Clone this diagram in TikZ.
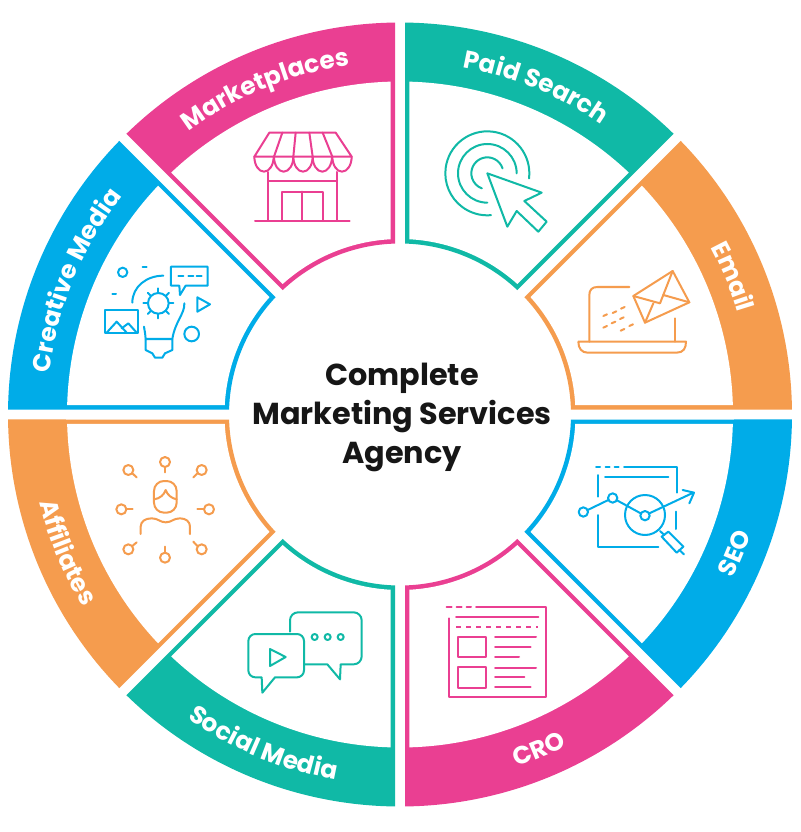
\documentclass[tikz,border=0pt]{standalone}
\usepackage{fontspec}
\setmainfont{Poppins}
\usetikzlibrary{decorations.text}
\definecolor{cteal}{HTML}{10B9A6}
\definecolor{corange}{HTML}{F59C4E}
\definecolor{cblue}{HTML}{00ACE8}
\definecolor{cpink}{HTML}{EA3F92}
\definecolor{cink}{HTML}{161616}
\newcommand{\wedgeshape}[6]{%
 \pgfmathsetmacro\ao{#1+asin(#5/#3)}\pgfmathsetmacro\bo{#2-asin(#5/#3)}%
 \pgfmathsetmacro\ai{#1+asin(#5/#4)}\pgfmathsetmacro\bi{#2-asin(#5/#4)}%
 \fill[#6] (\ao:#3 pt) arc[start angle=\ao,end angle=\bo,radius=#3 pt] -- (\bi:#4 pt) arc[start angle=\bi,end angle=\ai,radius=#4 pt] -- cycle;}
\newcommand{\segment}[3]{% a1, a2, colour
 \wedgeshape{#1}{#2}{392}{171}{5}{#3}%
 \wedgeshape{#1}{#2}{333}{175.5}{9.3}{white}}
\newcommand{\lab}{\color{white}\bfseries\fontsize{24.8}{28}\selectfont}
\newcommand{\labcw}[2]{% mid angle, text : clockwise, tops outward
 \pgfmathsetmacro\sa{#1+36}\pgfmathsetmacro\ea{#1-36}%
 \path[decorate,decoration={text along path,text align=center,text={|\lab|#2}}] (\sa:353pt) arc[start angle=\sa,end angle=\ea,radius=353pt];}
\newcommand{\labccw}[2]{% mid angle, text : counter-clockwise, tops inward
 \pgfmathsetmacro\sa{#1-36}\pgfmathsetmacro\ea{#1+36}%
 \path[decorate,decoration={text along path,text align=center,text={|\lab|#2}}] (\sa:371pt) arc[start angle=\sa,end angle=\ea,radius=371pt];}
\tikzset{icon/.style={line width=2pt,line cap=round,line join=round,draw=#1},
 zoomed/.style={shift={#1},scale=1/3}}
\begin{document}
\begin{tikzpicture}[x=1pt,y=-1pt]
\useasboundingbox (0,0) rectangle (800,832);
\fill[white] (0,0) rectangle (800,832);
\begin{scope}[shift={(400,414.5)}]
 \segment{45}{90}{cteal}
 \segment{0}{45}{corange}
 \segment{-45}{0}{cblue}
 \segment{-90}{-45}{cpink}
 \segment{-135}{-90}{cteal}
 \segment{-180}{-135}{corange}
 \segment{135}{180}{cblue}
 \segment{90}{135}{cpink}
 \labcw{67.5}{Paid Search}
 \labcw{22.5}{Email}
 \labccw{-22.5}{SEO}
 \labccw{-67.5}{CRO}
 \labccw{-112.5}{Social Media}
 \labccw{-157.5}{Affiliates}
 \labcw{157.5}{Creative Media}
 \labcw{112.5}{Marketplaces}
\end{scope}
\node[font=\bfseries\fontsize{30.3}{39}\selectfont,text=cink,align=center,inner sep=0pt] (title) at (402,417.5) {Complete\\Marketing Services\\Agency};
% Paid Search icon
\begin{scope}[zoomed={(400,10)},icon=cteal]
 \draw (262,490) ++(7:126) arc[start angle=7,end angle=-275,radius=126];
 \draw (262,490) ++(0:88) arc[start angle=0,end angle=-270,radius=88];
 \draw (262,490) ++(-18:48) arc[start angle=-18,end angle=-250,radius=48];
 \draw (262,490) -- (425,548) -- (373,573) -- (440,635) -- (415,665) -- (350,603) -- (322,650) -- cycle;
\end{scope}
% Email icon
\begin{scope}[zoomed={(520,140)},icon=corange]
 \draw (328,441) -- (232,441) .. controls (216,441) and (208,450) .. (208,465) -- (208,605);
 \draw (465,535) -- (465,605);
 \draw (175,605) -- (498,605) .. controls (498,625) and (490,638) .. (470,638) -- (203,638) .. controls (185,638) and (175,625) .. (175,605);
 \draw (340,468) -- (458,393) -- (508,487) -- (375,548) -- cycle;
 \draw (340,468) -- (420,490) -- (458,393);
 \draw (375,548) -- (400,490);
 \draw (508,487) -- (430,465);
 \foreach \p/\q in {250/528,278/519,303/506,250/563,275/550,300/537,302/572,328/558}
  \draw (\p,\q) -- ++(11,-5);
\end{scope}
% SEO icon
\begin{scope}[zoomed={(520,420)},icon=cblue]
 \draw (228,142) -- (240,142) (257,142) -- (269,142) (284,142) -- (296,142);
 \draw (312,142) -- (470,142) -- (470,218);
 \draw (467,275) -- (467,327);
 \draw (233,165) -- (233,230);
 \draw (233,285) -- (233,380) -- (415,380);
 \draw (255,171) -- (445,171);
 \draw (190,276) circle[radius=14] (278,234) circle[radius=14] (375,287) circle[radius=14];
 \draw (203,270) -- (265,240) (291,241) -- (362,280) (388,280) -- (520,218);
 \draw (488,210) -- (522,218) -- (508,250);
 \draw (375,285) circle[radius=60];
 \draw (425,350) -- (445,335) -- (490,380) -- (470,398) -- cycle;
 \draw (478,390) -- (492,403) (420,333) -- (433,345);
\end{scope}
% CRO icon
\begin{scope}[zoomed={(400,540)},icon=cpink]
 \draw (140,202) -- (155,202) (170,202) -- (185,202) (200,202) -- (213,202);
 \draw (228,202) -- (438,202) -- (438,472) -- (146,472) -- (146,235);
 \draw (168,232) -- (415,232);
 \draw[line cap=butt,dash pattern=on 5pt off 5pt] (168,262) -- (415,262);
 \draw (175,290) rectangle (257,352) (175,381) rectangle (257,443);
 \draw (285,292) -- (408,292) (285,321) -- (392,321) (285,351) -- (357,351);
 \draw (285,383) -- (408,383) (285,412) -- (373,412) (285,441) -- (392,441);
\end{scope}
% Social Media icon
\begin{scope}[zoomed={(125,540)},icon=cteal]
 \draw (495,275) [rounded corners=8pt] -- (495,217) -- (710,217) -- (710,373) [sharp corners] -- (647,373) -- (645,418) -- (607,373) -- (538,373);
 \draw (450,412) [rounded corners=7pt] -- (537,412) -- (537,282) -- (370,282) -- (370,412) [sharp corners] -- (410,412) -- (412,458) -- cycle;
 \draw (435,327) -- (482,351) -- (435,378) -- cycle;
 \draw (569,291) circle[radius=9] (608,291) circle[radius=9] (647,291) circle[radius=9];
\end{scope}
% Affiliates icon
\begin{scope}[zoomed={(0,420)},icon=corange]
 \foreach \cx/\cy/\ax/\ay/\bx/\by in {495/126/495/141/495/157,385/150/397/160/410/172,605/150/592/160/580/172,364/268/380/268/398/268,627/268/610/268/592/268,385/388/397/378/410/367,605/388/592/378/580/365,495/413/495/397/495/380}{
  \draw (\cx,\cy) circle[radius=15];
  \draw (\ax,\ay) -- (\bx,\by);
 }
 \draw[rounded corners=10pt] (462,183) rectangle (530,278);
 \draw (463,238) .. controls (480,235) and (492,225) .. (497,210) .. controls (502,225) and (515,235) .. (530,238);
 \draw (422,342) -- (422,320) .. controls (422,305) and (435,295) .. (455,295) .. controls (475,295) and (480,307) .. (497,307) .. controls (515,307) and (520,295) .. (540,295) .. controls (558,295) and (570,305) .. (570,320) -- (570,342);
\end{scope}
% Creative Media icon
\begin{scope}[zoomed={(0,140)},icon=cblue]
 \draw (368,397) circle[radius=14] (575,582) circle[radius=22];
 \draw (428,380) -- (440,380) (337,463) -- (348,463);
 \draw (513,380) -- (623,380) -- (623,437) -- (557,437) -- (540,465) -- (538,437) -- (513,437) -- cycle;
 \draw (535,408) -- (550,408) (565,408) -- (580,408) (590,408) -- (605,408);
 \draw (592,472) -- (630,493) -- (592,515) -- cycle;
 \draw (397,488) .. controls (397,440) and (440,407) .. (490,407);
 \draw (475,490) circle[radius=31];
 \foreach \a in {0,45,...,315} \draw (475,490) ++(\a:33) -- ++(\a:12);
 \draw (315,510) rectangle (413,580);
 \draw (320,578) -- (350,545) -- (380,578) (365,565) -- (385,550) -- (410,578);
 \draw (553,490) .. controls (555,520) and (525,545) .. (517,597);
 \draw (432,560) .. controls (434,575) and (437,585) .. (437,597);
 \draw (437,597) -- (517,597) -- (517,630) -- (495,640) -- (487,653) -- (465,653) -- (457,640) -- (437,630) -- cycle;
\end{scope}
% Marketplaces icon
\begin{scope}[zoomed={(125,10)},icon=cpink]
 \draw (433,368) -- (632,368) -- (680,440) -- (388,440) -- cycle;
 \draw (472,368) -- (447,440) (512,368) -- (505,440) (553,368) -- (563,440) (593,368) -- (622,440);
 \foreach \c in {417,476,534,592,651}
  \draw (\c-29,440) arc[start angle=180,end angle=0,x radius=29,y radius=45];
 \draw (430,486) -- (430,633) (636,486) -- (636,633) (430,513) -- (636,513);
 \draw (390,633) -- (674,633);
 \draw (472,633) -- (472,545) -- (593,545) -- (593,633) (532,545) -- (532,633);
\end{scope}
\end{tikzpicture}
\end{document}
